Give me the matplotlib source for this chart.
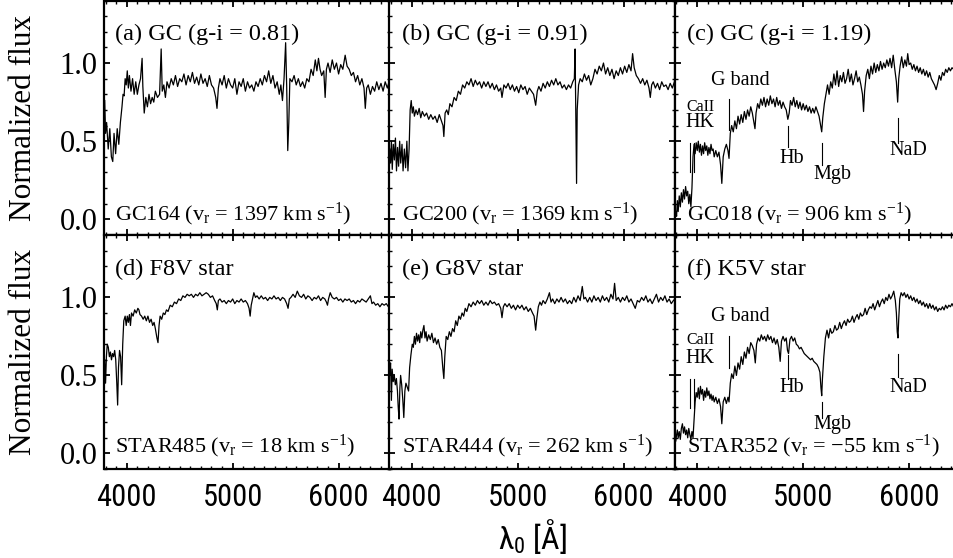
import matplotlib
matplotlib.use("Agg")
import matplotlib.pyplot as plt
from matplotlib import font_manager as fm
from matplotlib.ticker import MultipleLocator, FixedLocator, FormatStrFormatter

# ---------------- data ----------------
wave_a = [3792, 3800, 3810, 3825, 3840, 3855, 3868, 3880, 3895, 3910,
          3925, 3940, 3955, 3965, 3975, 3985, 3995, 4005, 4015, 4025,
          4040, 4055, 4070, 4085, 4100, 4115, 4130, 4145, 4152, 4165,
          4180, 4195, 4210, 4225, 4240, 4255, 4270, 4290, 4310, 4325,
          4335, 4350, 4365, 4380, 4400, 4420, 4440, 4460, 4480, 4500,
          4520, 4540, 4560, 4580, 4600, 4620, 4640, 4660, 4680, 4700,
          4720, 4740, 4760, 4780, 4800, 4820, 4840, 4852, 4865, 4880,
          4900, 4920, 4940, 4960, 4980, 5000, 5020, 5040, 5060, 5080,
          5100, 5120, 5140, 5160, 5180, 5200, 5220, 5240, 5260, 5280,
          5300, 5320, 5340, 5360, 5380, 5400, 5420, 5440, 5455, 5470,
          5485, 5500, 5510, 5520, 5530, 5540, 5560, 5580, 5600, 5620,
          5640, 5660, 5680, 5700, 5720, 5740, 5760, 5780, 5795, 5810,
          5825, 5840, 5860, 5873, 5885, 5900, 5920, 5940, 5960, 5980,
          6000, 6020, 6040, 6062, 6080, 6100, 6120, 6140, 6160, 6180,
          6200, 6220, 6240, 6252, 6265, 6280, 6300, 6320, 6340, 6360,
          6380, 6400, 6420, 6440, 6460, 6480]
flux_a = [0.76, 0.55, 0.62, 0.45, 0.58, 0.40, 0.37, 0.55, 0.42, 0.58,
          0.48, 0.62, 0.72, 0.80, 0.79, 0.90, 0.86, 0.95, 0.84, 0.92,
          0.82, 0.90, 0.80, 0.88, 0.80, 0.86, 0.90, 1.03, 0.85, 0.68,
          0.78, 0.72, 0.80, 0.74, 0.78, 0.75, 0.82, 0.78, 0.80, 1.09,
          0.82, 0.86, 0.78, 0.88, 0.84, 0.90, 0.86, 0.92, 0.85, 0.90,
          0.88, 0.93, 0.86, 0.92, 0.88, 0.94, 0.87, 0.91, 0.86, 0.93,
          0.87, 0.90, 0.85, 0.92, 0.86, 0.84, 0.78, 0.71, 0.84, 0.90,
          0.86, 0.92, 0.84, 0.90, 0.86, 0.84, 0.90, 0.80, 0.88, 0.85,
          0.90, 0.82, 0.88, 0.84, 0.86, 0.82, 0.88, 0.85, 0.90, 0.86,
          0.92, 0.88, 0.95, 0.87, 0.92, 0.84, 0.88, 0.80, 0.86, 0.76,
          0.90, 1.13, 0.85, 0.44, 0.62, 0.90, 0.88, 0.92, 0.86, 0.90,
          0.85, 0.88, 0.84, 0.90, 0.88, 0.96, 0.92, 1.02, 0.95, 1.03,
          0.96, 0.92, 0.95, 0.78, 0.96, 1.00, 0.94, 1.02, 0.96, 1.00,
          0.93, 0.99, 0.96, 1.05, 0.98, 0.96, 0.92, 0.94, 0.88, 0.92,
          0.86, 0.90, 0.84, 0.71, 0.84, 0.86, 0.80, 0.85, 0.82, 0.88,
          0.83, 0.87, 0.82, 0.88, 0.84, 0.89]

wave_b = [3792, 3800, 3808, 3816, 3826, 3836, 3846, 3856, 3866, 3876,
          3886, 3896, 3908, 3918, 3930, 3942, 3954, 3964, 3975, 3985,
          3995, 4005, 4015, 4025, 4040, 4055, 4070, 4085, 4100, 4120,
          4140, 4160, 4180, 4200, 4220, 4240, 4260, 4280, 4295, 4303,
          4315, 4330, 4345, 4360, 4380, 4400, 4420, 4440, 4460, 4480,
          4500, 4520, 4540, 4560, 4580, 4600, 4620, 4640, 4660, 4680,
          4700, 4720, 4740, 4760, 4780, 4800, 4820, 4840, 4852, 4870,
          4890, 4910, 4930, 4950, 4970, 4990, 5010, 5030, 5050, 5070,
          5090, 5110, 5130, 5150, 5170, 5185, 5200, 5220, 5240, 5260,
          5280, 5300, 5320, 5340, 5360, 5380, 5400, 5420, 5440, 5460,
          5480, 5500, 5520, 5535, 5542, 5550, 5556, 5562, 5575, 5590,
          5610, 5630, 5650, 5670, 5690, 5710, 5730, 5750, 5770, 5790,
          5810, 5830, 5850, 5870, 5890, 5910, 5930, 5950, 5970, 5990,
          6010, 6030, 6050, 6070, 6085, 6100, 6120, 6140, 6160, 6180,
          6200, 6220, 6240, 6252, 6265, 6280, 6300, 6320, 6340, 6360,
          6380, 6400, 6420, 6440, 6460, 6480]
flux_b = [0.45, 0.36, 0.50, 0.32, 0.48, 0.38, 0.52, 0.31, 0.46, 0.34,
          0.50, 0.36, 0.48, 0.31, 0.45, 0.33, 0.50, 0.31, 0.45, 0.70,
          0.76, 0.68, 0.72, 0.66, 0.70, 0.67, 0.71, 0.65, 0.69, 0.66,
          0.68, 0.64, 0.67, 0.64, 0.66, 0.62, 0.67, 0.63, 0.60, 0.53,
          0.68, 0.70, 0.67, 0.74, 0.72, 0.78, 0.76, 0.82, 0.80, 0.86,
          0.84, 0.88, 0.86, 0.90, 0.85, 0.89, 0.86, 0.88, 0.84, 0.88,
          0.85, 0.88, 0.84, 0.87, 0.83, 0.86, 0.82, 0.84, 0.78, 0.86,
          0.84, 0.87, 0.83, 0.86, 0.82, 0.85, 0.81, 0.86, 0.83, 0.85,
          0.80, 0.84, 0.82, 0.80, 0.73, 0.82, 0.85, 0.82, 0.87, 0.84,
          0.88, 0.85, 0.89, 0.86, 0.90, 0.86, 0.88, 0.84, 0.86, 0.83,
          0.86, 0.84, 0.88, 0.90, 1.09, 0.60, 0.23, 0.70, 0.86, 0.90,
          0.88, 0.93, 0.89, 0.92, 0.86, 0.90, 0.96, 0.93, 0.98, 0.95,
          1.00, 0.93, 0.97, 0.92, 0.96, 0.90, 0.95, 0.92, 0.97, 0.93,
          0.98, 0.94, 0.99, 0.95, 1.06, 0.97, 0.92, 0.90, 0.87, 0.90,
          0.86, 0.89, 0.84, 0.78, 0.86, 0.88, 0.84, 0.87, 0.83, 0.88,
          0.85, 0.86, 0.83, 0.87, 0.84, 0.88]

wave_c = [3798, 3805, 3812, 3820, 3830, 3840, 3850, 3860, 3870, 3880,
          3890, 3900, 3910, 3920, 3930, 3940, 3950, 3960, 3970, 3980,
          3990, 4000, 4010, 4020, 4030, 4040, 4050, 4060, 4070, 4080,
          4090, 4100, 4110, 4120, 4130, 4140, 4150, 4160, 4175, 4190,
          4205, 4220, 4232, 4245, 4260, 4275, 4290, 4300, 4312, 4325,
          4340, 4355, 4370, 4385, 4400, 4415, 4430, 4445, 4460, 4475,
          4490, 4505, 4520, 4535, 4545, 4555, 4570, 4585, 4600, 4615,
          4630, 4645, 4660, 4675, 4690, 4705, 4720, 4735, 4750, 4765,
          4780, 4795, 4810, 4825, 4840, 4855, 4868, 4880, 4895, 4910,
          4925, 4940, 4955, 4970, 4985, 5000, 5015, 5030, 5045, 5060,
          5075, 5090, 5105, 5120, 5135, 5150, 5165, 5175, 5185, 5200,
          5215, 5230, 5245, 5260, 5275, 5290, 5305, 5320, 5335, 5350,
          5365, 5380, 5395, 5410, 5425, 5440, 5455, 5470, 5485, 5500,
          5515, 5530, 5545, 5560, 5570, 5580, 5595, 5610, 5625, 5640,
          5655, 5670, 5685, 5700, 5715, 5730, 5745, 5760, 5775, 5790,
          5805, 5820, 5835, 5850, 5865, 5880, 5892, 5902, 5915, 5930,
          5945, 5960, 5975, 5987, 6000, 6015, 6030, 6045, 6060, 6075,
          6090, 6105, 6120, 6135, 6150, 6165, 6180, 6195, 6210, 6225,
          6240, 6255, 6270, 6285, 6300, 6315, 6330, 6345, 6360, 6375,
          6390, 6405, 6420, 6440, 6460]
flux_c = [0.05, 0.02, 0.12, 0.05, 0.15, 0.08, 0.17, 0.11, 0.19, 0.13,
          0.21, 0.15, 0.18, 0.10, 0.16, 0.08, 0.20, 0.40, 0.48, 0.42,
          0.49, 0.44, 0.50, 0.43, 0.48, 0.41, 0.47, 0.42, 0.49, 0.44,
          0.47, 0.41, 0.46, 0.42, 0.48, 0.44, 0.45, 0.40, 0.44, 0.40,
          0.43, 0.35, 0.23, 0.40, 0.45, 0.48, 0.44, 0.39, 0.55, 0.60,
          0.56, 0.63, 0.58, 0.66, 0.61, 0.67, 0.62, 0.69, 0.64, 0.70,
          0.66, 0.72, 0.68, 0.62, 0.58, 0.68, 0.74, 0.71, 0.77, 0.73,
          0.78, 0.72, 0.77, 0.73, 0.79, 0.74, 0.77, 0.72, 0.78, 0.73,
          0.76, 0.71, 0.75, 0.72, 0.70, 0.64, 0.68, 0.76, 0.73, 0.78,
          0.72, 0.76, 0.71, 0.75, 0.70, 0.74, 0.70, 0.73, 0.69, 0.72,
          0.68, 0.71, 0.68, 0.72, 0.69, 0.66, 0.60, 0.56, 0.65, 0.74,
          0.80, 0.86, 0.80, 0.88, 0.84, 0.93, 0.86, 0.95, 0.85, 0.92,
          0.88, 0.94, 0.87, 0.90, 0.96, 0.88, 0.93, 0.86, 0.90, 0.95,
          0.88, 0.91, 0.86, 0.80, 0.69, 0.82, 0.92, 0.96, 0.90, 0.98,
          0.93, 1.00, 0.94, 0.99, 0.95, 1.01, 0.96, 1.00, 0.97, 1.02,
          0.98, 1.03, 0.97, 1.05, 0.96, 0.88, 0.75, 0.90, 0.98, 1.04,
          0.97, 1.02, 0.98, 1.06, 0.99, 1.00, 0.96, 0.99, 0.95, 0.98,
          0.94, 0.97, 0.93, 0.96, 0.92, 0.95, 0.91, 0.94, 0.90, 0.88,
          0.86, 0.83, 0.87, 0.92, 0.89, 0.94, 0.92, 0.96, 0.94, 0.97,
          0.95, 0.97, 0.96, 0.97, 0.96]

wave_d = [3792, 3800, 3808, 3816, 3826, 3836, 3846, 3856, 3866, 3876,
          3886, 3896, 3906, 3914, 3922, 3932, 3942, 3952, 3962, 3972,
          3985, 3995, 4005, 4015, 4025, 4035, 4045, 4060, 4075, 4090,
          4105, 4115, 4125, 4140, 4155, 4170, 4185, 4200, 4215, 4230,
          4245, 4258, 4270, 4285, 4295, 4305, 4315, 4330, 4345, 4360,
          4375, 4390, 4410, 4430, 4450, 4470, 4490, 4510, 4530, 4550,
          4570, 4590, 4610, 4630, 4650, 4670, 4690, 4710, 4730, 4750,
          4770, 4790, 4810, 4830, 4845, 4855, 4865, 4880, 4900, 4920,
          4940, 4960, 4980, 5000, 5020, 5040, 5060, 5080, 5100, 5120,
          5140, 5155, 5165, 5175, 5190, 5200, 5215, 5230, 5250, 5270,
          5290, 5310, 5330, 5350, 5370, 5390, 5410, 5430, 5450, 5470,
          5490, 5510, 5523, 5535, 5550, 5570, 5590, 5610, 5630, 5650,
          5670, 5690, 5710, 5730, 5750, 5770, 5790, 5810, 5830, 5850,
          5870, 5885, 5895, 5905, 5921, 5940, 5960, 5980, 6000, 6020,
          6040, 6060, 6080, 6100, 6120, 6140, 6160, 6180, 6200, 6220,
          6240, 6260, 6280, 6300, 6315, 6330, 6350, 6370, 6390, 6410,
          6430, 6450, 6470, 6485]
flux_d = [0.60, 0.45, 0.62, 0.70, 0.68, 0.62, 0.65, 0.60, 0.64, 0.62,
          0.66, 0.60, 0.45, 0.31, 0.55, 0.66, 0.62, 0.44, 0.70, 0.85,
          0.88, 0.82, 0.88, 0.84, 0.89, 0.82, 0.90, 0.88, 0.92, 0.90,
          0.93, 0.92, 0.89, 0.88, 0.86, 0.88, 0.85, 0.88, 0.84, 0.86,
          0.82, 0.84, 0.80, 0.74, 0.71, 0.82, 0.88, 0.86, 0.90, 0.89,
          0.92, 0.91, 0.95, 0.94, 0.97, 0.96, 0.99, 0.98, 1.01, 1.00,
          1.02, 1.01, 1.02, 1.00, 1.02, 1.01, 1.03, 1.01, 1.02, 1.03,
          1.02, 1.00, 1.01, 0.98, 0.96, 0.92, 0.98, 0.99, 0.97, 0.98,
          0.96, 0.98, 0.97, 0.99, 0.96, 0.98, 0.97, 0.99, 0.97, 0.98,
          0.96, 0.93, 0.88, 0.95, 1.00, 1.03, 1.00, 1.01, 0.99, 1.01,
          0.99, 1.00, 0.98, 1.00, 0.99, 1.01, 0.99, 1.00, 0.98, 1.00,
          0.99, 0.96, 0.93, 0.99, 1.00, 1.02, 1.00, 1.04, 1.01, 1.00,
          1.02, 0.99, 1.01, 1.00, 0.98, 1.00, 0.99, 1.01, 0.98, 1.00,
          0.99, 0.97, 0.95, 0.99, 1.03, 1.00, 0.99, 1.00, 0.98, 0.99,
          0.97, 0.99, 0.98, 0.99, 0.97, 0.98, 0.96, 0.98, 0.97, 0.99,
          0.98, 0.97, 0.99, 1.01, 0.96, 0.97, 0.95, 0.96, 0.94, 0.96,
          0.95, 0.96, 0.94, 0.95]

wave_e = [3792, 3800, 3808, 3815, 3825, 3835, 3845, 3855, 3865, 3872,
          3880, 3888, 3895, 3905, 3915, 3925, 3935, 3945, 3960, 3970,
          3980, 3992, 4005, 4015, 4025, 4035, 4045, 4055, 4065, 4075,
          4085, 4095, 4105, 4115, 4125, 4135, 4145, 4160, 4175, 4190,
          4205, 4220, 4235, 4250, 4265, 4280, 4293, 4303, 4312, 4325,
          4340, 4355, 4370, 4385, 4400, 4415, 4430, 4445, 4460, 4475,
          4490, 4505, 4520, 4540, 4560, 4580, 4600, 4620, 4640, 4660,
          4680, 4700, 4720, 4740, 4760, 4780, 4800, 4820, 4840, 4852,
          4865, 4880, 4900, 4920, 4940, 4960, 4980, 5000, 5020, 5040,
          5060, 5080, 5100, 5120, 5140, 5155, 5170, 5180, 5195, 5210,
          5225, 5240, 5260, 5280, 5300, 5315, 5330, 5350, 5370, 5390,
          5410, 5430, 5450, 5470, 5490, 5510, 5530, 5550, 5570, 5590,
          5610, 5625, 5640, 5660, 5680, 5700, 5720, 5740, 5760, 5780,
          5800, 5820, 5840, 5860, 5880, 5900, 5915, 5930, 5950, 5970,
          5990, 6010, 6030, 6050, 6070, 6090, 6110, 6130, 6150, 6170,
          6190, 6210, 6230, 6250, 6270, 6290, 6310, 6330, 6350, 6370,
          6390, 6410, 6430, 6450, 6470, 6485]
flux_e = [0.50, 0.58, 0.34, 0.54, 0.46, 0.50, 0.44, 0.48, 0.40, 0.30,
          0.22, 0.42, 0.50, 0.44, 0.35, 0.23, 0.40, 0.45, 0.42, 0.40,
          0.55, 0.63, 0.70, 0.68, 0.75, 0.70, 0.77, 0.72, 0.76, 0.71,
          0.78, 0.74, 0.79, 0.82, 0.74, 0.78, 0.72, 0.76, 0.73, 0.77,
          0.71, 0.74, 0.70, 0.73, 0.68, 0.66, 0.55, 0.48, 0.62, 0.75,
          0.73, 0.78, 0.75, 0.80, 0.78, 0.85, 0.82, 0.88, 0.86, 0.90,
          0.88, 0.93, 0.91, 0.96, 0.94, 0.97, 0.95, 0.98, 0.96, 0.98,
          0.95, 0.97, 0.95, 0.98, 0.96, 0.97, 0.95, 0.96, 0.93, 0.87,
          0.94, 0.96, 0.94, 0.96, 0.93, 0.95, 0.92, 0.95, 0.93, 0.95,
          0.92, 0.94, 0.91, 0.93, 0.90, 0.88, 0.79, 0.86, 0.94, 0.97,
          0.95, 0.98, 0.96, 0.99, 1.03, 0.97, 0.99, 0.96, 0.99, 0.97,
          1.00, 0.97, 0.99, 0.96, 0.98, 0.96, 1.00, 0.97, 1.01, 0.98,
          1.07, 0.99, 1.00, 0.97, 1.00, 0.97, 1.01, 0.98, 1.00, 0.97,
          1.01, 0.98, 1.00, 0.97, 1.02, 0.99, 1.09, 0.98, 1.00, 0.97,
          1.00, 0.98, 1.01, 0.97, 0.99, 0.96, 0.93, 0.98, 0.97, 1.00,
          0.98, 1.01, 0.97, 0.99, 0.96, 0.99, 1.02, 0.97, 1.00, 0.98,
          1.01, 0.97, 0.99, 0.96, 0.98, 0.99]

wave_f = [3798, 3805, 3812, 3820, 3830, 3840, 3850, 3860, 3870, 3880,
          3890, 3900, 3910, 3920, 3930, 3940, 3950, 3960, 3970, 3980,
          3990, 4000, 4010, 4020, 4030, 4040, 4050, 4060, 4070, 4080,
          4090, 4100, 4110, 4120, 4130, 4140, 4150, 4160, 4175, 4190,
          4205, 4220, 4232, 4245, 4260, 4275, 4290, 4300, 4312, 4325,
          4340, 4355, 4370, 4385, 4400, 4415, 4430, 4445, 4460, 4475,
          4490, 4505, 4520, 4535, 4548, 4560, 4575, 4590, 4605, 4620,
          4635, 4650, 4665, 4680, 4695, 4710, 4725, 4740, 4755, 4770,
          4783, 4795, 4810, 4825, 4840, 4852, 4862, 4875, 4890, 4905,
          4920, 4935, 4950, 4965, 4980, 4995, 5010, 5025, 5040, 5055,
          5070, 5085, 5100, 5115, 5130, 5145, 5158, 5168, 5175, 5182,
          5195, 5210, 5225, 5240, 5255, 5270, 5285, 5300, 5315, 5330,
          5345, 5360, 5375, 5390, 5405, 5420, 5435, 5450, 5465, 5480,
          5495, 5510, 5525, 5540, 5555, 5570, 5585, 5600, 5615, 5630,
          5645, 5660, 5675, 5690, 5705, 5720, 5735, 5750, 5765, 5780,
          5795, 5810, 5825, 5840, 5855, 5870, 5880, 5888, 5895, 5902,
          5912, 5925, 5940, 5955, 5970, 5985, 6000, 6015, 6030, 6045,
          6060, 6075, 6090, 6105, 6120, 6135, 6150, 6165, 6180, 6195,
          6210, 6225, 6240, 6255, 6270, 6285, 6300, 6315, 6330, 6345,
          6360, 6375, 6390, 6405, 6420, 6440, 6460]
flux_f = [0.08, 0.12, 0.15, 0.10, 0.14, 0.09, 0.16, 0.19, 0.13, 0.17,
          0.12, 0.15, 0.10, 0.16, 0.12, 0.09, 0.14, 0.10, 0.22, 0.33,
          0.39, 0.36, 0.42, 0.35, 0.43, 0.38, 0.41, 0.34, 0.40, 0.36,
          0.42, 0.37, 0.40, 0.35, 0.38, 0.34, 0.37, 0.33, 0.36, 0.32,
          0.35, 0.30, 0.19, 0.33, 0.36, 0.32, 0.36, 0.33, 0.45, 0.51,
          0.48, 0.56, 0.50, 0.58, 0.54, 0.62, 0.57, 0.65, 0.61, 0.68,
          0.64, 0.71, 0.69, 0.66, 0.58, 0.70, 0.74, 0.72, 0.76, 0.73,
          0.75, 0.72, 0.76, 0.73, 0.75, 0.71, 0.74, 0.70, 0.73, 0.68,
          0.59, 0.72, 0.75, 0.72, 0.74, 0.66, 0.64, 0.73, 0.75, 0.72,
          0.74, 0.70, 0.69, 0.67, 0.68, 0.66, 0.64, 0.63, 0.62, 0.61,
          0.60, 0.61, 0.59, 0.58, 0.57, 0.55, 0.52, 0.42, 0.37, 0.48,
          0.62, 0.74, 0.79, 0.74, 0.80, 0.77, 0.78, 0.82, 0.79, 0.80,
          0.84, 0.80, 0.83, 0.85, 0.82, 0.86, 0.84, 0.85, 0.88, 0.84,
          0.87, 0.89, 0.86, 0.90, 0.88, 0.89, 0.93, 0.89, 0.92, 0.94,
          0.93, 0.96, 0.92, 0.95, 0.98, 0.94, 0.97, 0.99, 0.96, 1.00,
          0.98, 1.02, 0.99, 1.01, 1.04, 0.98, 0.90, 0.78, 0.74, 0.86,
          0.99, 1.03, 1.01, 1.03, 1.00, 1.02, 0.99, 1.01, 0.98, 1.00,
          0.97, 0.99, 0.96, 0.98, 0.95, 0.97, 0.94, 0.96, 0.93, 0.96,
          0.93, 0.95, 0.92, 0.94, 0.91, 0.93, 0.92, 0.94, 0.92, 0.95,
          0.93, 0.95, 0.94, 0.96, 0.94, 0.95, 0.94]

top_labels = ["(a) GC (g-i = 0.81)", "(b) GC (g-i = 0.91)", "(c) GC (g-i = 1.19)",
              "(d) F8V star", "(e) G8V star", "(f) K5V star"]
bottom_labels = ["GC164 (v$_\\mathrm{r}$ = 1397 km s$^{-1}$)",
                 "GC200 (v$_\\mathrm{r}$ = 1369 km s$^{-1}$)",
                 "GC018 (v$_\\mathrm{r}$ = 906 km s$^{-1}$)",
                 "STAR485 (v$_\\mathrm{r}$ = 18 km s$^{-1}$)",
                 "STAR444 (v$_\\mathrm{r}$ = 262 km s$^{-1}$)",
                 "STAR352 (v$_\\mathrm{r}$ = \u221255 km s$^{-1}$)"]

# absorption-line markers (panels c and f)
hk_waves = [3934, 3968]
line_names = ["G band", "Hb", "Mgb", "NaD"]
line_waves = [4304, 4861, 5175, 5893]
hk_range_c = (0.30, 0.49)
hk_range_f = (0.29, 0.48)
line_ranges_c = [(0.57, 0.77), (0.46, 0.60), (0.35, 0.49), (0.49, 0.65)]
line_ranges_f = [(0.55, 0.75), (0.48, 0.63), (0.23, 0.33), (0.49, 0.64)]
label_pos_c = [(4407, 0.89), (4889, 0.39), (5277, 0.29), (5996, 0.44)]
label_pos_f = [(4407, 0.875), (4889, 0.42), (5277, 0.185), (5996, 0.42)]
caii_pos_c = [(4028, 0.72), (4028, 0.62)]
caii_pos_f = [(4028, 0.725), (4028, 0.61)]

xtick_vals = [4000, 5000, 6000]
xtick_labels = ["4000", "5000", "6000"]
ytick_vals = [0.0, 0.5, 1.0]

# ---------------- fonts ----------------
avail = {f.name for f in fm.fontManager.ttflist}
narrow_name = None
for cand in ["Liberation Sans Narrow", "DejaVu Sans Condensed", "Roboto Condensed",
             "Open Sans Condensed"]:
    if cand in avail:
        narrow_name = cand
        break
if narrow_name is None:
    narrow_name = "Liberation Sans"
serif = "Liberation Serif" if "Liberation Serif" in avail else "DejaVu Serif"

plt.rcParams["font.family"] = [serif, "DejaVu Serif"]
plt.rcParams["mathtext.fontset"] = "custom"
plt.rcParams["mathtext.rm"] = serif
plt.rcParams["mathtext.it"] = serif + ":italic"
plt.rcParams["mathtext.sf"] = narrow_name
plt.rcParams["mathtext.default"] = "rm"

# ---------------- figure ----------------
W, H = 954, 558
fig = plt.figure(figsize=(W / 100, H / 100), dpi=100)

lefts_px = [104.5, 389.5, 675.0]
width_px = 286.0
rows_px = [(0.5, 235.0), (235.0, 469.0)]

waves = [wave_a, wave_b, wave_c, wave_d, wave_e, wave_f]
fluxes = [flux_a, flux_b, flux_c, flux_d, flux_e, flux_f]
text_x = [0.037, 0.043, 0.043]
top_y = [0.83, 0.83]
bot_y = [0.064, 0.072]

axes = []
for r, (ytop, ybot) in enumerate(rows_px):
    for c, lx in enumerate(lefts_px):
        k = r * 3 + c
        ax = fig.add_axes([lx / W, 1 - ybot / H, width_px / W, (ybot - ytop) / H])
        axes.append(ax)
        ax.plot(waves[k], fluxes[k], color="black", lw=0.9)
        ax.set_xlim(3790, 6490)
        ax.set_ylim(-0.1, 1.4)
        ax.xaxis.set_major_locator(FixedLocator(xtick_vals))
        ax.xaxis.set_minor_locator(MultipleLocator(100))
        ax.yaxis.set_major_locator(FixedLocator(ytick_vals))
        ax.yaxis.set_minor_locator(MultipleLocator(0.1))
        ax.tick_params(which="both", direction="in", top=True, right=True)
        ax.tick_params(which="major", length=4.0, width=1.3)
        ax.tick_params(which="minor", length=2.0, width=1.0)
        for sp in ax.spines.values():
            sp.set_linewidth(1.6)
        if r == 1:
            ax.set_xticks(xtick_vals)
            ax.set_xticklabels(xtick_labels, family=narrow_name, size=22)
            ax.tick_params(axis="x", which="major", pad=10)
        else:
            ax.tick_params(axis="x", labelbottom=False)
        if c == 0:
            ax.yaxis.set_major_formatter(FormatStrFormatter("%.1f"))
            ax.tick_params(axis="y", labelsize=22, pad=5)
        else:
            ax.tick_params(axis="y", labelleft=False)
        ax.text(text_x[c], top_y[r], top_labels[k], transform=ax.transAxes,
                ha="left", va="baseline", fontsize=17.5)
        ax.text(text_x[c], bot_y[r], bottom_labels[k], transform=ax.transAxes,
                ha="left", va="baseline", fontsize=16)

# line markers on panels c and f
for ax, hkr, lr, lp, cp in [(axes[2], hk_range_c, line_ranges_c, label_pos_c, caii_pos_c),
                            (axes[5], hk_range_f, line_ranges_f, label_pos_f, caii_pos_f)]:
    for wv in hk_waves:
        ax.plot([wv, wv], hkr, color="black", lw=0.8)
    for wv, rg, name, pos in zip(line_waves, lr, line_names, lp):
        ax.plot([wv, wv], rg, color="black", lw=0.8)
        ax.text(pos[0], pos[1], name, ha="center", va="center", fontsize=14.5)
    ax.text(cp[0][0], cp[0][1], "CaII", ha="center", va="center", fontsize=11.5)
    ax.text(cp[1][0], cp[1][1], "HK", ha="center", va="center", fontsize=14.5)

# axis labels
for yc in [1 - (0.5 + 235) / 2 / H, 1 - (235 + 469) / 2 / H]:
    fig.text(24 / W, yc, "Normalized flux", rotation=90, ha="center", va="center",
             fontsize=22.5)
fig.text(533 / W, 1 - 536 / H, "λ$_\\mathsf{0}$ [Å]", ha="center", va="center",
         family=narrow_name, fontsize=23)

fig.savefig("out.png", dpi=100)
